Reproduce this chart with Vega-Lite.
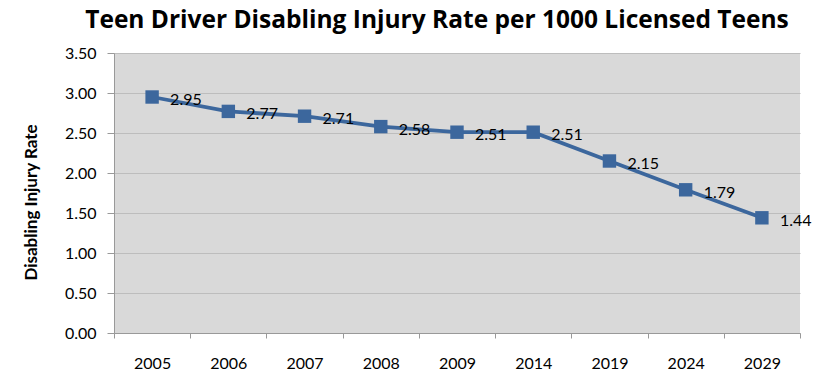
{
  "$schema": "https://vega.github.io/schema/vega-lite/v6.json",
  "autosize": {"type": "none"},
  "padding": {"left": 114, "top": 53, "right": 31, "bottom": 38},
  "width": 686,
  "height": 280,
  "background": "white",
  "title": {
    "text": "Teen Driver Disabling Injury Rate per 1000 Licensed Teens",
    "font": "Open Sans",
    "fontSize": 24.5,
    "fontWeight": "bold",
    "color": "black",
    "anchor": "middle",
    "frame": "group",
    "offset": 12,
    "dx": -20
  },
  "config": {
    "view": {"fill": "#d9d9d9", "stroke": null},
    "font": "Lato"
  },
  "data": {
    "values": [
      {"year": "2005", "rate": 2.95},
      {"year": "2006", "rate": 2.77},
      {"year": "2007", "rate": 2.71},
      {"year": "2008", "rate": 2.58},
      {"year": "2009", "rate": 2.51},
      {"year": "2014", "rate": 2.51},
      {"year": "2019", "rate": 2.15},
      {"year": "2024", "rate": 1.79},
      {"year": "2029", "rate": 1.44}
    ]
  },
  "encoding": {
    "x": {
      "field": "year",
      "type": "ordinal",
      "sort": null,
      "scale": {"paddingInner": 0, "paddingOuter": 0},
      "axis": {
        "title": null,
        "labelAngle": 0,
        "labelFont": "Lato",
        "labelFontSize": 16,
        "labelColor": "black",
        "tickBand": "extent",
        "tickSize": 5,
        "tickColor": "#999999",
        "domainColor": "#999999",
        "labelPadding": 17,
        "grid": false
      }
    },
    "y": {
      "field": "rate",
      "type": "quantitative",
      "scale": {"domain": [0, 3.5], "nice": false},
      "axis": {
        "title": "Disabling Injury Rate",
        "titleFont": "Lato",
        "titleFontSize": 17,
        "titleFontWeight": "bold",
        "titleColor": "black",
        "titlePadding": 24,
        "titleY": 149,
        "values": [0, 0.5, 1, 1.5, 2, 2.5, 3, 3.5],
        "format": ".2f",
        "labelFont": "Lato",
        "labelFontSize": 16,
        "labelColor": "black",
        "labelPadding": 11,
        "tickSize": 7,
        "tickColor": "#999999",
        "domainColor": "#999999",
        "grid": true,
        "gridColor": "#bdbdbd",
        "gridWidth": 1
      }
    }
  },
  "layer": [
    {
      "mark": {"type": "line", "color": "#3c679d", "strokeWidth": 3.8}
    },
    {
      "mark": {"type": "point", "shape": "square", "filled": true, "size": 180, "color": "#3c679d", "opacity": 1}
    },
    {
      "mark": {"type": "text", "align": "left", "baseline": "middle", "dx": 18, "dy": 3, "fontSize": 16, "font": "Lato", "color": "black"},
      "encoding": {"text": {"field": "rate", "type": "quantitative", "format": ".2f"}}
    }
  ]
}
